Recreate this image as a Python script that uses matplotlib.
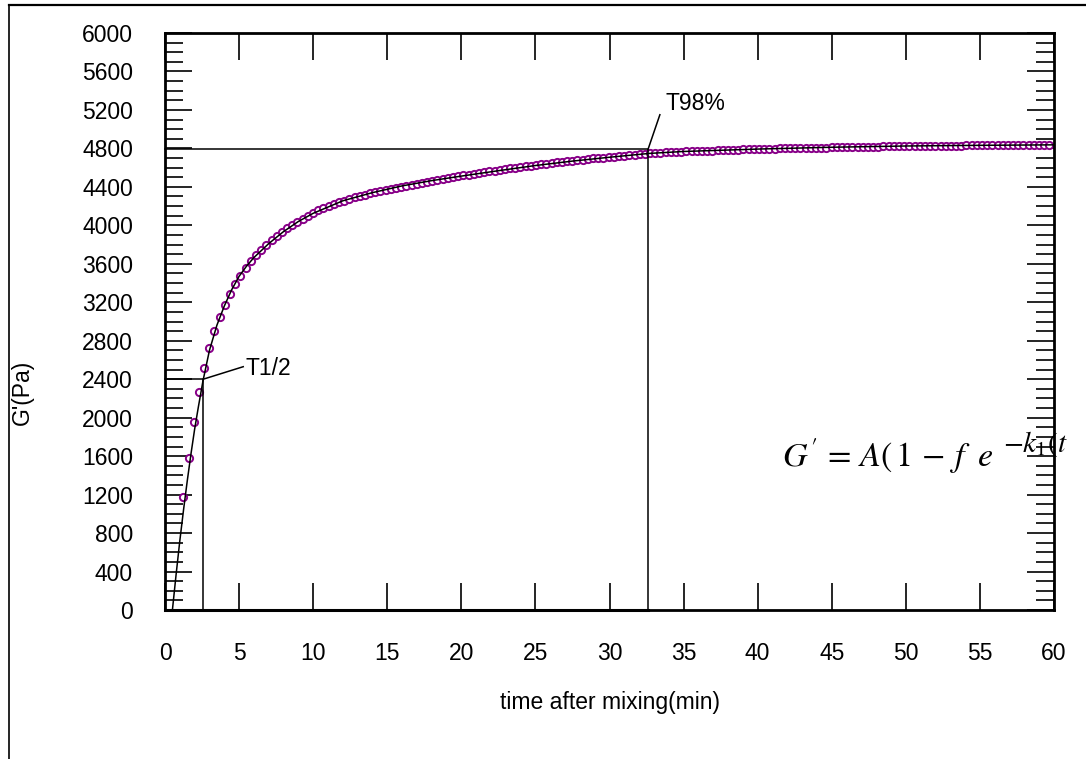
import numpy as np
import matplotlib
matplotlib.use("Agg")
import matplotlib.pyplot as plt
from matplotlib.lines import Line2D

# ---------------- data ----------------
# measured G' (Pa), sampled every STEP minutes starting at START
START = 1.24
STEP = 0.35
g_measured = [
    1172, 1580, 1960, 2265, 2515, 2725, 2900, 3045, 3175, 3290,
    3390, 3478, 3556, 3625, 3688, 3745,
    3797, 3845, 3889, 3930, 3968, 4004, 4038, 4070, 4100, 4129,
    4155, 4179, 4201, 4221, 4240, 4258, 4275, 4291, 4306, 4320, 4333, 4345, 4356, 4367,
    4378, 4389, 4400, 4410, 4420, 4430, 4440, 4450, 4460, 4470, 4480, 4490, 4500, 4510,
    4519, 4528, 4537, 4545, 4553, 4561, 4569, 4577, 4585, 4593, 4601, 4608, 4615, 4622,
    4629, 4636, 4642, 4648, 4654, 4660, 4666, 4672, 4678, 4684, 4690, 4695, 4700, 4705, 4710,
    4715, 4720, 4725, 4730, 4735, 4740, 4745, 4749,
    4752, 4755, 4758, 4761, 4764, 4766, 4768, 4770, 4772, 4774,
    4776, 4778, 4780, 4782, 4784, 4786, 4788, 4790, 4791, 4792,
    4793, 4795, 4796, 4797, 4799, 4800, 4801, 4802, 4804, 4805,
    4806, 4807, 4808, 4809, 4810, 4811, 4812, 4813, 4814, 4815,
    4816, 4817, 4818, 4819, 4820, 4821, 4822, 4823, 4825,
    4826, 4826, 4827, 4827, 4828, 4828, 4829, 4829, 4830, 4830,
    4830, 4831, 4831, 4832, 4832, 4832, 4833, 4833, 4833, 4834,
    4834, 4834, 4835, 4835, 4835, 4836, 4836, 4836,
]

# fitted model curve
fit_t = [0.5, 0.75, 1.0, 1.25, 1.5, 1.75, 2.0, 2.25, 2.56, 3.0, 3.5, 4.0, 4.5,
         5.0, 5.5, 6.0, 7.0, 8.0, 9.0, 10, 12, 14, 16, 18, 20, 22.5, 25,
         27.5, 30, 32.7, 35, 40, 45, 50, 55, 60]
fit_g = [0, 370, 720, 1040, 1340, 1620, 1880, 2110, 2380, 2700, 2960, 3160, 3330,
         3470, 3575, 3665, 3810, 3935, 4040, 4125, 4255, 4340, 4410, 4465, 4512, 4568, 4622,
         4668, 4708, 4748, 4768, 4793, 4812, 4825, 4832, 4837]

# characteristic times
t_half, g_half = 2.58, 2400
t_98, g_98 = 32.6, 4790

x_ticks = list(range(0, 61, 5))
y_ticks = list(range(0, 6001, 400))

# ---------------- figure ----------------
plt.rcParams['font.family'] = ['Liberation Sans', 'DejaVu Sans']
plt.rcParams['mathtext.fontset'] = 'stix'

W, H = 1086, 759
fig = plt.figure(figsize=(W / 100, H / 100), dpi=100)
ax = fig.add_axes([165 / W, 1 - 610 / H, (1054 - 165) / W, (610 - 33) / H])

t_meas = START + STEP * np.arange(len(g_measured))
ax.plot(t_meas, g_measured, linestyle='none', marker='o', ms=5.2, mew=1.4,
        mec='#880088', mfc='white', zorder=2, clip_on=True)
ax.plot(fit_t, fit_g, color='black', lw=1.1, zorder=3)

# T1/2 and T98% boxes
lk = dict(color='black', lw=1.1, zorder=4, clip_on=False)
ax.plot([0, t_half, t_half], [g_half, g_half, 0], **lk)
ax.plot([0, t_half], [0, 0], **lk)
ax.plot([0, t_98, t_98], [g_98, g_98, 0], **lk)
ax.plot([0, t_98], [0, 0], color='black', lw=2.2, zorder=4, clip_on=False)

# annotation leaders
ax.plot([t_half, 5.28], [g_half, 2530], color='black', lw=1.1, zorder=4)
ax.text(5.45, 2515, "T1/2", fontsize=16.5, va='center', ha='left')
ax.plot([t_98, 33.4], [g_98, 5150], color='black', lw=1.1, zorder=4)
ax.text(33.75, 5270, "T98%", fontsize=16.5, va='center', ha='left')

ax.set_xlim(0, 60)
ax.set_ylim(0, 6000)
ax.set_xticks(x_ticks)
ax.set_xticklabels([str(v) for v in x_ticks])
ax.set_yticks(y_ticks)
ax.set_yticklabels([str(v) for v in y_ticks])
ax.set_yticks(list(range(0, 6001, 100)), minor=True)

ax.tick_params(axis='both', which='major', direction='in', length=19.5, width=1.2,
               labelsize=16.5, top=True, right=True, pad=23)
ax.tick_params(axis='y', which='minor', direction='in', length=13, width=1.2,
               left=True, right=True)

for s in ax.spines.values():
    s.set_linewidth(2.0)

ax.set_xlabel("time after mixing(min)", fontsize=16.5, va='center')
ax.xaxis.set_label_coords(0.5, -(702 - 610) / 577)
ax.set_ylabel("G'(Pa)", fontsize=16.5, va='center', rotation=90)
ax.yaxis.set_label_coords(-(165 - 22) / 889, (610 - 392) / 577)

# equation (the visible part, running to the right edge as in the source)
fig.text(782 / W, 1 - 467 / H, r"$G' \,=\, A(\,1 \,-\, f\;\;e$",
         fontsize=24.5, va='baseline', ha='left', color='black')
fig.text(1003 / W, 1 - 452 / H, r"$-k_1(t$",
         fontsize=21, va='baseline', ha='left', color='black')

# outer frame lines
fig.add_artist(Line2D([9 / W, 1], [1 - 5 / H, 1 - 5 / H], transform=fig.transFigure,
                      color='black', lw=1.6))
fig.add_artist(Line2D([9 / W, 9 / W], [0, 1 - 5 / H], transform=fig.transFigure,
                      color='black', lw=1.2))

fig.savefig("out.png", dpi=100)
